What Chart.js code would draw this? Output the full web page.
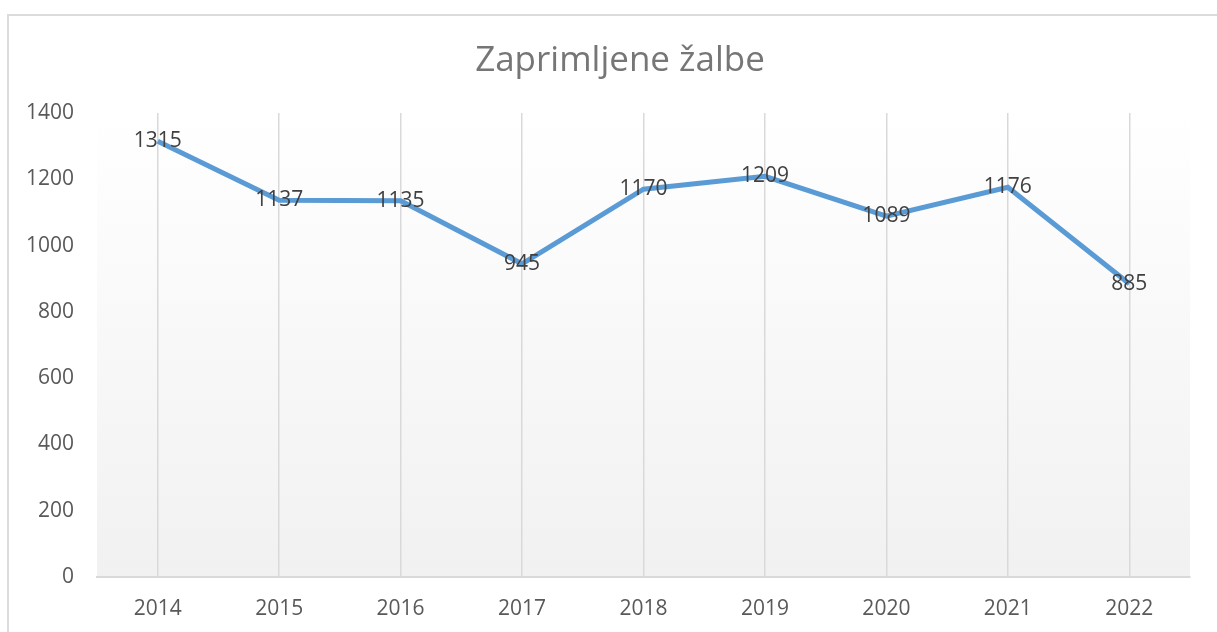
<!DOCTYPE html>
<html>
<head>
<meta charset="utf-8">
<script src="https://cdn.jsdelivr.net/npm/chart.js@4"></script>
<style>
  body { margin: 0; background: #fff; }
  #frame { position: absolute; left: 7px; top: 14px; width: 1240px; height: 660px; border: 2px solid #dcdcdc; box-sizing: border-box; }
  #wrap { position: absolute; left: 0; top: 0; width: 1217px; height: 632px; }
</style>
</head>
<body>
<div id="frame"></div>
<div id="wrap"><canvas id="complaintsChart"></canvas></div>
<script>
const years = ['2014', '2015', '2016', '2017', '2018', '2019', '2020', '2021', '2022'];
const complaints = [1315, 1137, 1135, 945, 1170, 1209, 1089, 1176, 885];
const yTicks = [0, 200, 400, 600, 800, 1000, 1200, 1400];
const chartTitle = 'Zaprimljene žalbe';

const FONT = "'Open Sans', 'Noto Sans', sans-serif";

// plot area gradient, white at top to light grey at bottom
const plotBackground = {
    id: 'plotBackground',
    beforeDraw(chart) {
        const { ctx, chartArea: a } = chart;
        const g = ctx.createLinearGradient(0, a.top, 0, a.bottom);
        g.addColorStop(0, '#ffffff');
        g.addColorStop(1, '#f1f1f1');
        ctx.save();
        ctx.fillStyle = g;
        ctx.fillRect(a.left, a.top, a.right - a.left, a.bottom - a.top);
        ctx.restore();
    }
};

// title sits a bit right of the canvas centre in the original
const titleText = {
    id: 'titleText',
    afterDraw(chart) {
        const { ctx } = chart;
        ctx.save();
        ctx.font = '35px ' + FONT;
        ctx.fillStyle = '#767676';
        ctx.textAlign = 'center';
        ctx.textBaseline = 'middle';
        ctx.fillText(chartTitle, 620, 61);
        ctx.restore();
    }
};

// value labels centred on each point
const valueLabels = {
    id: 'valueLabels',
    afterDatasetsDraw(chart) {
        const { ctx } = chart;
        const meta = chart.getDatasetMeta(0);
        ctx.save();
        ctx.font = '21px ' + FONT;
        ctx.fillStyle = '#404040';
        ctx.textAlign = 'center';
        ctx.textBaseline = 'middle';
        meta.data.forEach((pt, i) => {
            ctx.fillText(String(complaints[i]), pt.x, pt.y);
        });
        ctx.restore();
    }
};

new Chart(document.getElementById('complaintsChart'), {
    type: 'line',
    data: {
        labels: years,
        datasets: [{
            label: chartTitle,
            data: complaints,
            borderColor: '#5B9BD5',
            borderWidth: 5,
            pointRadius: 0,
            tension: 0,
            fill: false
        }]
    },
    options: {
        responsive: true,
        maintainAspectRatio: false,
        animation: false,
        layout: { padding: { left: 0, right: 27, top: 113, bottom: 0 } },
        plugins: {
            legend: { display: false },
            tooltip: { enabled: false },
            title: { display: false }
        },
        scales: {
            x: {
                offset: true,
                grid: { offset: false, color: '#d9d9d9', lineWidth: 1.5, drawTicks: false },
                border: { color: '#d9d9d9', width: 2 },
                ticks: { color: '#595959', font: { family: FONT, size: 21 }, padding: 19 },
                afterFit(scale) { scale.height = 55; }
            },
            y: {
                min: 0,
                max: 1400,
                afterBuildTicks(scale) { scale.ticks = yTicks.map(v => ({ value: v })); },
                grid: { display: false },
                border: { display: false },
                ticks: {
                    color: '#595959',
                    font: { family: FONT, size: 21 },
                    padding: 15,
                    callback: v => String(v)
                },
                afterFit(scale) { scale.width = 97; }
            }
        }
    },
    plugins: [plotBackground, valueLabels, titleText]
});
</script>
</body>
</html>
